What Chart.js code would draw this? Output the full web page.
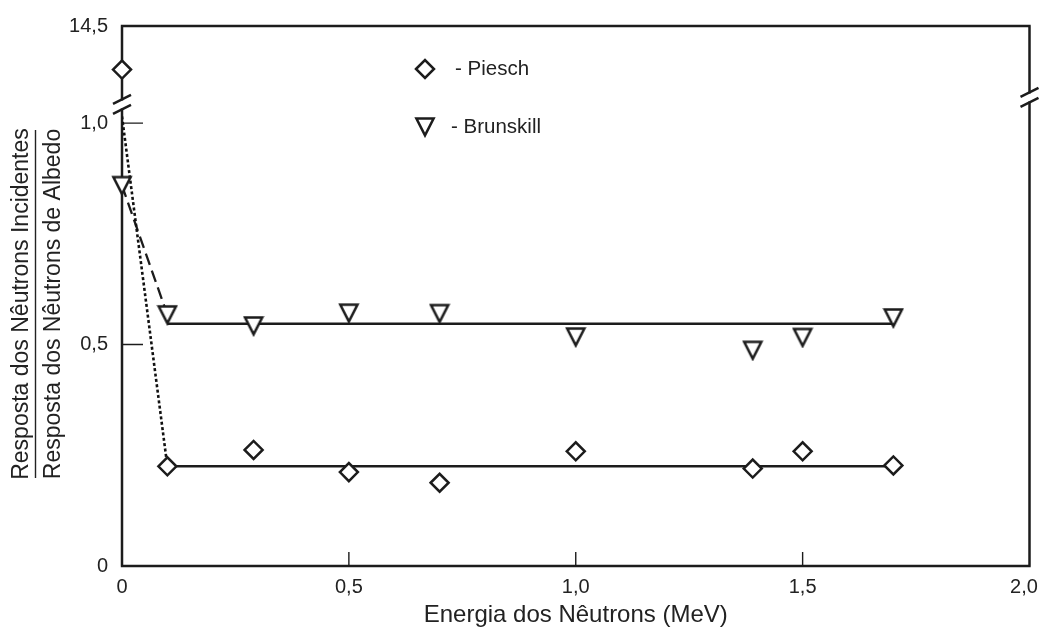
<!DOCTYPE html>
<html>
<head>
<meta charset="utf-8">
<script src="https://cdn.jsdelivr.net/npm/chart.js@4/dist/chart.umd.min.js"></script>
<style>
  html, body { margin: 0; padding: 0; background: #fff; }
  #c { display: block; }
</style>
</head>
<body>
<canvas id="c" width="1042" height="628"></canvas>
<script>
// Energies (MeV) and response ratios
const energiesPiesch = [0.1, 0.29, 0.5, 0.7, 1.0, 1.39, 1.5, 1.7];
const valuesPiesch = [0.225, 0.262, 0.212, 0.188, 0.259, 0.220, 0.259, 0.227];
const energiesBrunskill = [0, 0.1, 0.29, 0.5, 0.7, 1.0, 1.39, 1.5, 1.7];
const valuesBrunskill = [0.859, 0.567, 0.542, 0.571, 0.570, 0.517, 0.487, 0.516, 0.560];
// Thermal point for Piesch, above the axis break
const thermalEnergyPiesch = [0];
const thermalValuePiesch = [11.9];
// Mean lines over the fast-neutron range
const fitEnergies = [0.1, 1.7];
const fitPiesch = [0.225, 0.225];
const fitBrunskill = [0.547, 0.547];
// Drop from the thermal region to 0.1 MeV
const dropEnergies = [0, 0.1];
const dropPiesch = [1.015, 0.225];
const dropBrunskill = [0.859, 0.567];
// Tick values
const lowerTicks = [0, 0.5, 1.0];
const upperTicks = [14.5];
const energyTicks = [0, 0.5, 1.0, 1.5, 2.0];

const INK = '#1c1c1c';
const TEXT = '#222';
const FONT = "'Liberation Sans', Arial, Helvetica, sans-serif";
Chart.defaults.font.family = FONT;
Chart.defaults.color = TEXT;

const fmt = v => (v === 0 ? '0' : Number(v).toFixed(1).replace('.', ','));
// last energy label sits a little inside the right edge
const fmtEnergy = v => (v === energyTicks[energyTicks.length - 1] ? fmt(v) + '  ' : fmt(v));
const pts = (xs, ys) => xs.map((x, i) => ({ x, y: ys[i] }));

// Inverted triangle marker
function makeTriangle() {
  const cv = document.createElement('canvas');
  cv.width = 22; cv.height = 22;
  const g = cv.getContext('2d');
  g.lineWidth = 2.5;
  g.lineJoin = 'miter';
  g.strokeStyle = INK;
  g.fillStyle = '#fff';
  g.beginPath();
  g.moveTo(2.4, 2.6);
  g.lineTo(19.6, 2.6);
  g.lineTo(11, 19.4);
  g.closePath();
  g.fill();
  g.stroke();
  return cv;
}
const triangle = makeTriangle();

const markerBase = {
  showLine: false,
  borderColor: INK,
  backgroundColor: '#fff',
  pointBorderWidth: 2.5,
  clip: false
};

const frame = {
  id: 'frame',
  beforeDatasetsDraw(chart) {
    const { ctx, chartArea: a, scales } = chart;
    const yLow = scales.y;
    const xS = scales.x;
    const brk = yLow.top;
    const leftBreak = brk + 3;
    const rightBreak = brk - 4;
    ctx.save();
    ctx.strokeStyle = INK;
    ctx.lineCap = 'butt';
    ctx.lineWidth = 2.5;
    ctx.beginPath();
    // top and bottom
    ctx.moveTo(a.left - 1.2, a.top); ctx.lineTo(a.right + 1.2, a.top);
    ctx.moveTo(a.left - 1.2, a.bottom); ctx.lineTo(a.right + 1.2, a.bottom);
    // left, with a gap at the break
    ctx.moveTo(a.left, a.top); ctx.lineTo(a.left, leftBreak - 4);
    ctx.moveTo(a.left, leftBreak + 4); ctx.lineTo(a.left, a.bottom);
    // right, with a gap at the break
    ctx.moveTo(a.right, a.top); ctx.lineTo(a.right, rightBreak - 4);
    ctx.moveTo(a.right, rightBreak + 4); ctx.lineTo(a.right, a.bottom);
    ctx.stroke();

    // break marks
    const slash = (x, yc) => {
      [-5, 5].forEach(d => {
        ctx.moveTo(x - 9, yc + d + 4.5);
        ctx.lineTo(x + 9, yc + d - 4.5);
      });
    };
    ctx.beginPath();
    slash(a.left, leftBreak);
    slash(a.right, rightBreak);
    ctx.stroke();

    // inner tick marks
    ctx.lineWidth = 1.4;
    ctx.beginPath();
    [0.5, 1.0].forEach(v => {
      const py = yLow.getPixelForValue(v);
      ctx.moveTo(a.left, py); ctx.lineTo(a.left + 21, py);
    });
    [0.5, 1.0, 1.5].forEach(v => {
      const px = xS.getPixelForValue(v);
      ctx.moveTo(px, a.bottom); ctx.lineTo(px, a.bottom - 14);
    });
    ctx.stroke();
    ctx.restore();
  },
  afterDraw(chart) {
    const { ctx } = chart;
    ctx.save();
    // legend
    ctx.strokeStyle = INK;
    ctx.fillStyle = '#fff';
    ctx.lineWidth = 2.5;
    const dx = 425, dy = 69, r = 9;
    ctx.beginPath();
    ctx.moveTo(dx - r, dy); ctx.lineTo(dx, dy - r); ctx.lineTo(dx + r, dy); ctx.lineTo(dx, dy + r);
    ctx.closePath();
    ctx.fill(); ctx.stroke();
    ctx.drawImage(triangle, 425 - 11, 127 - 11);
    ctx.fillStyle = TEXT;
    ctx.font = '20.5px ' + FONT;
    ctx.textBaseline = 'middle';
    ctx.textAlign = 'left';
    ctx.fillText('- Piesch', 455, 69);
    ctx.fillText('- Brunskill', 451, 127);

    // y title as a fraction
    ctx.translate(0, 304);
    ctx.rotate(-Math.PI / 2);
    ctx.font = '23px ' + FONT;
    ctx.textAlign = 'center';
    ctx.textBaseline = 'alphabetic';
    ctx.fillText('Resposta dos Nêutrons Incidentes', 0, 28);
    ctx.fillText('Resposta dos Nêutrons de Albedo', 0, 60);
    ctx.strokeStyle = TEXT;
    ctx.lineWidth = 1.4;
    ctx.beginPath();
    ctx.moveTo(-174, 35.5); ctx.lineTo(174, 35.5);
    ctx.stroke();
    ctx.restore();
  }
};

const yCommon = {
  type: 'linear',
  position: 'left',
  stack: 'resp',
  grid: { display: false, drawTicks: false },
  border: { display: false },
  ticks: { padding: 14, font: { size: 20 }, color: TEXT, callback: fmt },
  afterFit: s => { s.width = 122; }
};

new Chart(document.getElementById('c'), {
  type: 'scatter',
  data: {
    datasets: [
      Object.assign({}, markerBase, {
        label: 'Piesch',
        data: pts(energiesPiesch, valuesPiesch),
        pointStyle: 'rectRot', pointRadius: 9, yAxisID: 'y', order: 0
      }),
      Object.assign({}, markerBase, {
        label: 'Piesch (térmico)',
        data: pts(thermalEnergyPiesch, thermalValuePiesch),
        pointStyle: 'rectRot', pointRadius: 9, yAxisID: 'yTop', order: 0
      }),
      Object.assign({}, markerBase, {
        label: 'Brunskill',
        data: pts(energiesBrunskill, valuesBrunskill),
        pointStyle: triangle, pointRadius: 10, yAxisID: 'y', order: 0
      }),
      {
        label: 'Piesch média', data: pts(fitEnergies, fitPiesch), showLine: true,
        borderColor: INK, borderWidth: 2.5, pointRadius: 0, yAxisID: 'y', order: 2
      },
      {
        label: 'Brunskill média', data: pts(fitEnergies, fitBrunskill), showLine: true,
        borderColor: INK, borderWidth: 2.5, pointRadius: 0, yAxisID: 'y', order: 2
      },
      {
        label: 'Piesch queda', data: pts(dropEnergies, dropPiesch), showLine: true,
        borderColor: '#111', borderWidth: 2.6, borderDash: [3, 2.4], pointRadius: 0, yAxisID: 'y', order: 2
      },
      {
        label: 'Brunskill queda', data: pts(dropEnergies, dropBrunskill), showLine: true,
        borderColor: INK, borderWidth: 2.3, borderDash: [12, 6], pointRadius: 0, yAxisID: 'y', order: 2
      }
    ]
  },
  options: {
    responsive: false,
    animation: false,
    events: [],
    layout: { padding: { top: 22, right: 12, left: 0, bottom: 0 } },
    plugins: { legend: { display: false }, tooltip: { enabled: false } },
    scales: {
      x: {
        type: 'linear', position: 'bottom', min: 0, max: 2,
        grid: { display: false, drawTicks: false },
        border: { display: false },
        ticks: { padding: 9, font: { size: 20 }, color: TEXT, maxRotation: 0, callback: fmtEnergy },
        afterBuildTicks: s => { s.ticks = energyTicks.map(v => ({ value: v })); },
        afterFit: s => { s.height = 62; s.paddingLeft = 0; s.paddingRight = 0; },
        title: {
          display: true, text: 'Energia dos Nêutrons (MeV)',
          font: { size: 24 }, color: TEXT, padding: { top: 0, bottom: -2 }
        }
      },
      yTop: Object.assign({}, yCommon, {
        min: 10, max: 14.5, stackWeight: 76, weight: 1,
        afterBuildTicks: s => { s.ticks = upperTicks.map(v => ({ value: v })); }
      }),
      y: Object.assign({}, yCommon, {
        min: 0, max: 1.049, stackWeight: 468, weight: 0,
        afterBuildTicks: s => { s.ticks = lowerTicks.map(v => ({ value: v })); }
      })
    }
  },
  plugins: [frame]
});
</script>
</body>
</html>
